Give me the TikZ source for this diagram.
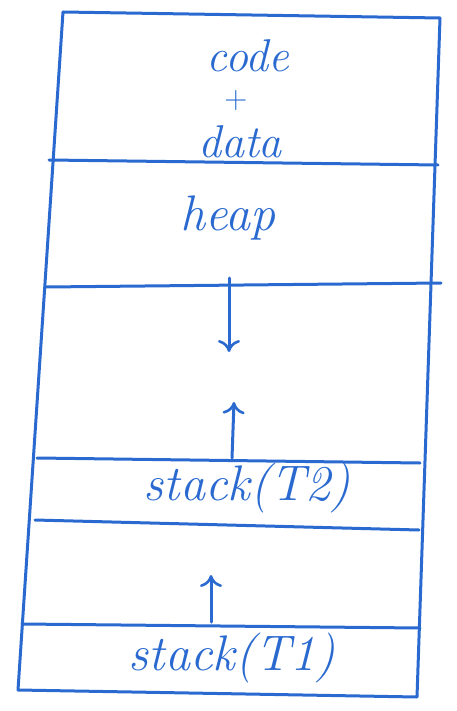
\documentclass[tikz,border=0pt]{standalone}
\usetikzlibrary{arrows.meta}
\definecolor{ink}{HTML}{2A6AD0}
\begin{document}
\begin{tikzpicture}[x=1pt,y=-1pt,
  pen/.style={draw=ink,line width=3pt,line cap=round,line join=round},
  lbl/.style={text=ink,font=\fontsize{50}{56}\selectfont\itshape,inner sep=0pt},
  arr/.style={pen,-{To[length=12pt,width=22pt,line width=2.6pt]}}]
\useasboundingbox (0,0) rectangle (456,711);
% outer box corners
\coordinate (tl) at (63,12);
\coordinate (tr) at (440,18);
\coordinate (br) at (417,697);
\coordinate (bl) at (18,690);
\draw[pen] (tl) -- (tr) -- (br) -- (bl) -- cycle;
% dividers
\coordinate (d1l) at (49,160); \coordinate (d1r) at (438,165);
\coordinate (d2l) at (46,287); \coordinate (d2r) at (441,283);
\coordinate (d3l) at (37,458); \coordinate (d3r) at (420,463);
\coordinate (d4l) at (35,520); \coordinate (d4r) at (419,530);
\coordinate (d5l) at (22,624); \coordinate (d5r) at (420,628);
\draw[pen] (d1l) -- (d1r);
\draw[pen] (d2l) -- (d2r);
\draw[pen] (d3l) -- (d3r);
\draw[pen] (d4l) -- (d4r);
\draw[pen] (d5l) -- (d5r);
% labels
\node[lbl,font=\fontsize{46}{50}\selectfont\itshape] (code) at (248,56) {code};
\node[lbl,font=\fontsize{32}{36}\selectfont] (plus) at (236,101) {+};
\node[lbl,font=\fontsize{46}{50}\selectfont\itshape] (data) at (240,142) {data};
\node[lbl] (heap) at (228,218) {heap};
\node[lbl] (s2) at (247,488) {stack(T2)};
\node[lbl] (s1) at (232,658) {stack(T1)};
% arrows
\coordinate (a1s) at (229,278); \coordinate (a1e) at (229,352);
\draw[arr] (a1s) -- (a1e);
\coordinate (a2s) at (232,458); \coordinate (a2e) at (234,402);
\draw[arr] (a2s) -- (a2e);
\coordinate (a3s) at (211,622); \coordinate (a3e) at (211,575);
\draw[arr] (a3s) -- (a3e);
\end{tikzpicture}
\end{document}
